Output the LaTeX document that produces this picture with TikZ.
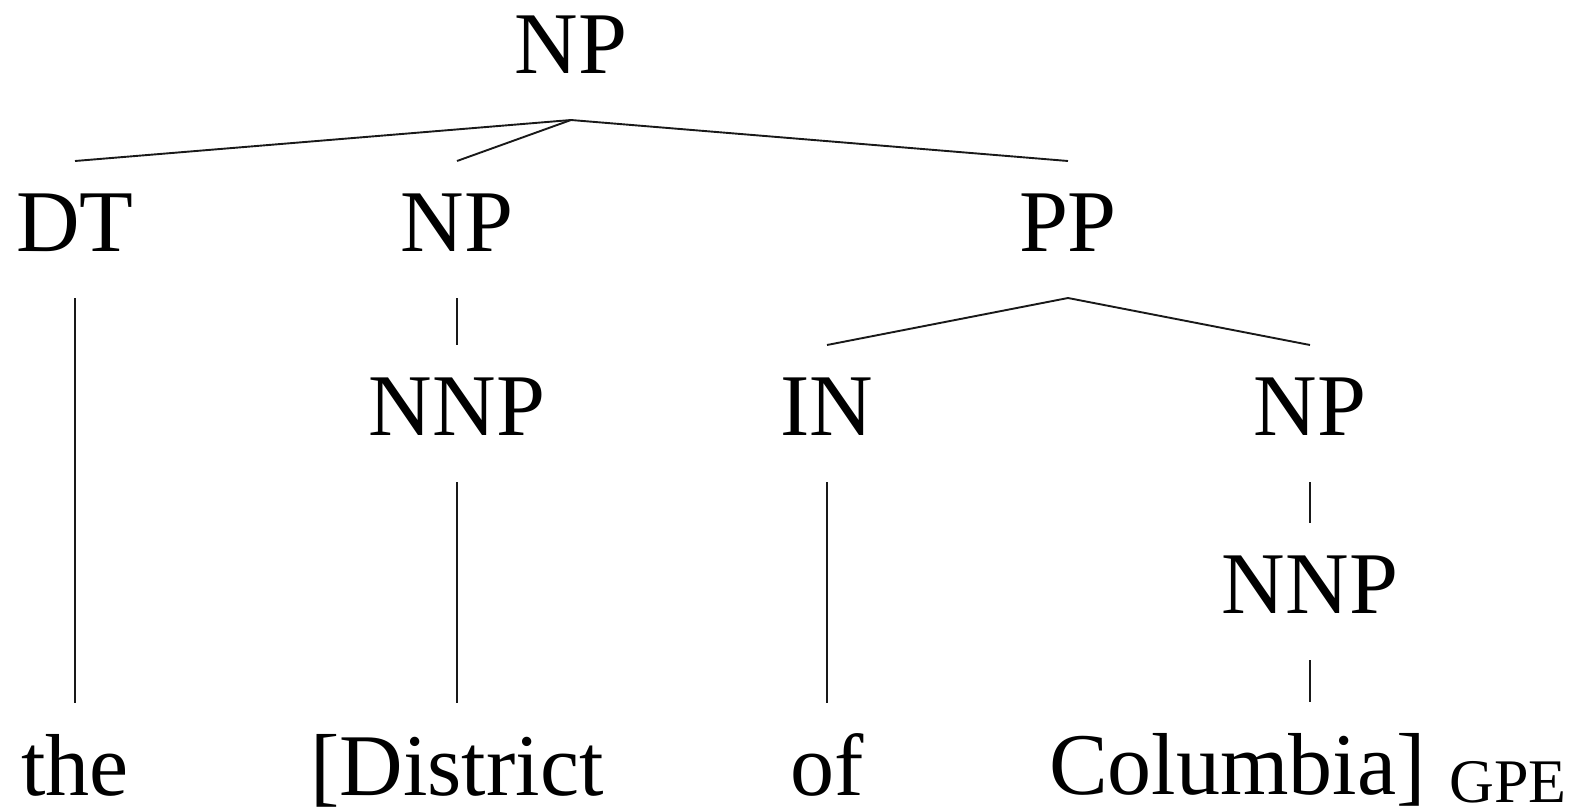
\documentclass[tikz,border=0pt]{standalone}
\usepackage{fontspec}
\setmainfont{Liberation Serif}
\begin{document}
\begin{tikzpicture}[x=1pt,y=-1pt,
  lbl/.style={anchor=base, inner sep=0pt, outer xsep=0pt, outer ysep=32pt,
              text height=58pt, text depth=15pt,
              font=\fontsize{88}{100}\selectfont},
  leaf/.style={lbl, outer ysep=0pt, text height=92pt, text depth=0pt},
  edge/.style={line width=1.9pt, black!90}]
\useasboundingbox (0,0) rectangle (1579,811);

% root
\node[lbl] (np0) at (571,73) {NP};

% first level
\node[lbl] (dt)  at (75,251)   {DT};
\node[lbl] (np1) at (457,251)  {NP};
\node[lbl] (pp)  at (1068,251) {PP};

% second level
\node[lbl] (nnp1) at (457,435)  {NNP};
\node[lbl] (in)   at (827,435)  {IN};
\node[lbl] (np2)  at (1310,435) {NP};

% third level
\node[lbl] (nnp2) at (1310,613) {NNP};

% leaves
\node[leaf] (w1) at (75,795)   {the};
\node[leaf] (w2) at (457,795)  {[District};
\node[leaf] (w3) at (827,795)  {of};
\node[leaf] (w4) at (1308,794) {Columbia]\hspace{24pt}\raisebox{-8pt}{\fontsize{62}{70}\selectfont GPE}};

% branches
\draw[edge] (dt.north) -- (np0.south) -- (pp.north);
\draw[edge] (np0.south) -- (np1.north);
\draw[edge] (in.north) -- (pp.south) -- (np2.north);
\draw[edge] (np1.south) -- (nnp1.north);
\draw[edge] (np2.south) -- (nnp2.north);
\draw[edge] (dt.south) -- (w1.north);
\draw[edge] (nnp1.south) -- (w2.north);
\draw[edge] (in.south) -- (w3.north);
\draw[edge] (nnp2.south) -- (w4.north -| nnp2.south);
\end{tikzpicture}
\end{document}
